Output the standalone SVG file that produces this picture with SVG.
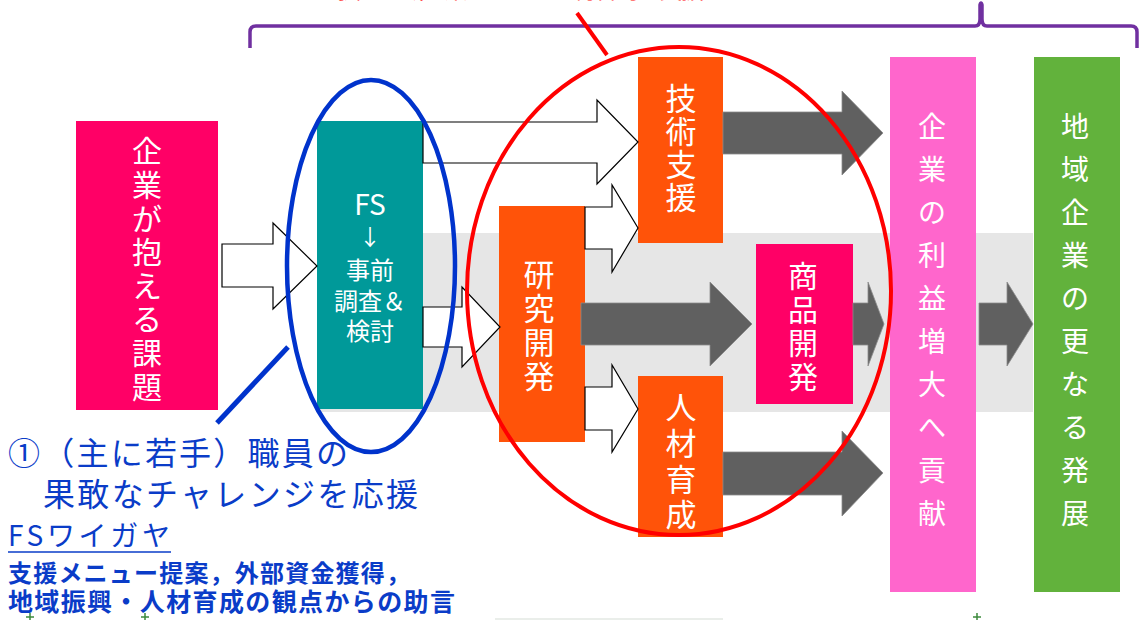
<svg xmlns="http://www.w3.org/2000/svg" width="1141" height="620" viewBox="0 0 1141 620">
  <style>
    .box-text { font-family: "Noto Sans CJK JP", "Noto Sans", sans-serif; fill: #ffffff; text-anchor: middle; }
    .hollow { fill: #ffffff; stroke: #000000; stroke-width: 1.2; stroke-linejoin: miter; }
    .solid { fill: #606060; stroke: #8a8a8a; stroke-width: 0.8; }
    .note { font-family: "Noto Sans CJK JP", "Noto Sans", sans-serif; fill: #0a3cc8; }
  </style>

  <rect width="1141" height="620" fill="#ffffff"/>

  <!-- shared background band behind the main flow -->
  <rect x="317" y="233" width="716" height="179" fill="#e6e6e6"/>

  <!-- heading (partly above the frame) and its bracket -->
  <g id="heading">
    <text x="337" y="-2" font-family="Noto Sans CJK JP, sans-serif" font-size="23" fill="#ff0000" textLength="367">強い地域企業づくりーを総合的に支援</text>
    <path d="M250,48 L250,32 Q250,26 256,26 L975,26 Q980,26 980,19 L980,5 Q981,1 982,5 L982,19 Q982,26 987,26 L1131,26 Q1137,26 1137,32 L1137,48" fill="none" stroke="#7030a0" stroke-width="3.5" stroke-linejoin="round"/>
  </g>

  <!-- nodes -->
  <g id="node-kadai">
    <rect x="76" y="121" width="142" height="289" fill="#ff0066"/>
    <text class="box-text" font-size="30" x="147 147 147 147 147 147 147 147" y="162 196 230 263 297 330 364 398">企業が抱える課題</text>
  </g>

  <g id="node-fs">
    <rect x="317" y="121" width="106" height="288" fill="#009999"/>
    <text class="box-text" font-size="28" x="370" y="215">FS</text>
    <text class="box-text" font-size="22" x="370" y="245">↓</text>
    <text class="box-text" font-size="24" x="370" y="279">事前</text>
    <text class="box-text" font-size="24" x="370" y="310">調査＆</text>
    <text class="box-text" font-size="24" x="370" y="340">検討</text>
  </g>

  <g id="node-gijutsu">
    <rect x="638" y="57" width="85" height="186" fill="#ff5309"/>
    <text class="box-text" font-size="31" x="681 681 681 681" y="110 143 176 209">技術支援</text>
  </g>

  <g id="node-kenkyu">
    <rect x="499" y="206" width="86" height="236" fill="#ff5309"/>
    <text class="box-text" font-size="31" x="539 539 539 539" y="286 320 354 388">研究開発</text>
  </g>

  <g id="node-jinzai">
    <rect x="638" y="376" width="85" height="161" fill="#ff5309"/>
    <text class="box-text" font-size="31" x="681 681 681 681" y="419 455 491 526">人材育成</text>
  </g>

  <g id="node-shohin">
    <rect x="756" y="244" width="97" height="160" fill="#ff0066"/>
    <text class="box-text" font-size="30" x="803 803 803 803" y="287 321 354 388">商品開発</text>
  </g>

  <g id="node-rieki">
    <rect x="890" y="57" width="86" height="535" fill="#ff66cc"/>
    <text class="box-text" font-size="28" x="932 932 932 932 932 932 932 932 932 932" y="137 180 223 266 309 352 395 438 481 524">企業の利益増大へ貢献</text>
  </g>

  <g id="node-chiiki">
    <rect x="1034" y="57" width="86" height="535" fill="#62b23c"/>
    <text class="box-text" font-size="28" x="1075 1075 1075 1075 1075 1075 1075 1075 1075 1075" y="137 180 223 266 309 352 395 438 481 524">地域企業の更なる発展</text>
  </g>

  <!-- connectors -->
  <g id="connectors">
    <polygon class="hollow" points="222,244 273,244 273,223 317,266 273,309 273,287 222,287"/>
    <polygon class="hollow" points="423,307 462,307 462,287 500,327 462,367 462,347 423,347"/>
    <polygon class="hollow" points="423,122 597,122 597,100 638,142 597,184 597,163 423,163"/>
    <polygon class="hollow" points="585,207 612,207 612,185 638,228 612,272 612,249 585,249"/>
    <polygon class="hollow" points="585,387 612,387 612,365 638,409 612,452 612,430 585,430"/>

    <polygon class="solid" points="581,303 710,303 710,282 752,324 710,366 710,345 581,345"/>
    <polygon class="solid" points="723,112 842,112 842,91 883,133 842,175 842,154 723,154"/>
    <polygon class="solid" points="723,452 842,452 842,431 883,473 842,516 842,495 723,495"/>
    <polygon class="solid" points="853,303 868,303 868,282 884,324 868,366 868,345 853,345"/>
    <polygon class="solid" points="979,303 1007,303 1007,282 1033,324 1007,366 1007,345 979,345"/>
  </g>

  <!-- highlight rings and their pointers -->
  <g id="ring-fs">
    <ellipse cx="371" cy="266" rx="84" ry="186" fill="none" stroke="#0033cc" stroke-width="4.5"/>
    <line x1="288" y1="347" x2="217" y2="423" stroke="#0033cc" stroke-width="5"/>
  </g>
  <g id="ring-support">
    <ellipse cx="679" cy="291" rx="212" ry="244" fill="none" stroke="#ff0000" stroke-width="4"/>
    <line x1="577" y1="13" x2="607" y2="55" stroke="#ff0000" stroke-width="4"/>
  </g>

  <!-- note on the young staff support -->
  <g id="note">
    <text class="note" x="8" y="465" font-size="32" textLength="340">①（主に若手）職員の</text>
    <text class="note" x="43" y="506" font-size="32" textLength="375">果敢なチャレンジを応援</text>
    <text class="note" x="8" y="546" font-size="28" textLength="162">FSワイガヤ</text>
    <line x1="8" y1="552" x2="171" y2="552" stroke="#0a3cc8" stroke-width="1.5"/>
    <text class="note" x="8" y="582" font-size="24" font-weight="bold" textLength="402">支援メニュー提案，外部資金獲得，</text>
    <text class="note" x="8" y="611" font-size="25" font-weight="bold" textLength="447">地域振興・人材育成の観点からの助言</text>
  </g>

  <!-- small marks along the lower edge -->
  <g id="marks" stroke="#3c8a3c" stroke-width="1.5">
    <path d="M30,613 V620 M26,617 H34"/>
    <path d="M145,613 V620 M141,617 H149"/>
    <path d="M977,613 V620 M973,617 H981"/>
  </g>
  <rect x="495" y="618" width="228" height="2" fill="#d6ddd6" opacity="0.5"/>
</svg>
